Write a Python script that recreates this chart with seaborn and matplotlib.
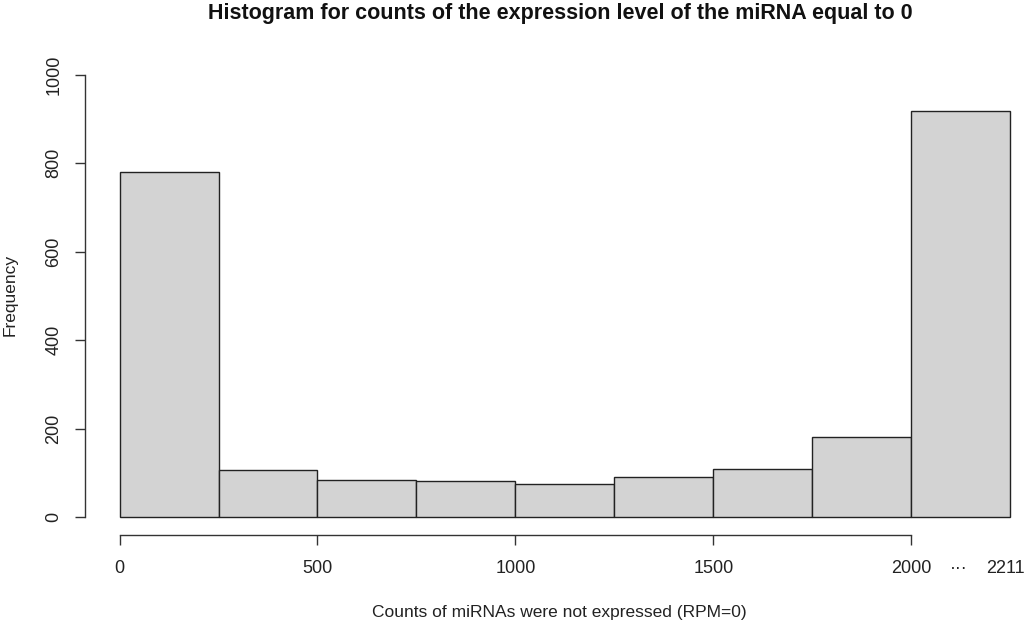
import numpy as np
import pandas as pd
import matplotlib
matplotlib.use('Agg')
import matplotlib.pyplot as plt
import matplotlib.transforms as mtransforms
import seaborn as sns

# bin edges (R hist breaks) and bar counts
bin_edges = [0, 250, 500, 750, 1000, 1250, 1500, 1750, 2000, 2250]
counts = [780, 106, 84, 82, 75, 90, 108, 181, 917]
x_ticks = [0, 500, 1000, 1500, 2000]
y_ticks = [0, 200, 400, 600, 800, 1000]
max_count_label = '2211'

sns.set_style('white')
plt.rcParams['font.family'] = ['Liberation Sans', 'DejaVu Sans']

df = pd.DataFrame({
    'mid': [(a + b) / 2 for a, b in zip(bin_edges[:-1], bin_edges[1:])],
    'n': counts,
})

fig = plt.figure(figsize=(10.24, 6.25), dpi=100)
ax = fig.add_axes([0.082, 0.144, 0.918, 0.765])

sns.histplot(data=df, x='mid', weights='n', bins=bin_edges, ax=ax,
             color='#d3d3d3', edgecolor='#222222', linewidth=1.0, alpha=1)

ax.set_xlim(-90, 2285)
ax.set_ylim(-40, 1040)

for s in ['top', 'right']:
    ax.spines[s].set_visible(False)
ax.spines['left'].set_bounds(0, 1000)
ax.spines['bottom'].set_bounds(0, 2000)
ax.spines['left'].set_position(('data', -88))
ax.spines['bottom'].set_position(('data', -40))
for s in ['left', 'bottom']:
    ax.spines[s].set_color('#333333')
    ax.spines[s].set_linewidth(1.0)

ax.set_xticks(x_ticks)
ax.set_yticks(y_ticks)
ax.set_yticklabels([str(v) for v in y_ticks], rotation=90, va='center')
ax.tick_params(axis='both', direction='out', length=7, width=1.0, color='#333333',
               labelsize=13, labelcolor='#222222', left=True, bottom=True)
ax.tick_params(axis='x', pad=11)
ax.tick_params(axis='y', pad=9)

# extra labels after the last tick, on the same line as the tick labels
shift = mtransforms.ScaledTranslation(0, -18 / 72, fig.dpi_scale_trans)
ax.text(2121, -40, '\u00b7\u00b7\u00b7', transform=ax.transData + shift,
        ha='center', va='top', fontsize=13, color='#222222')
ax.text(2238, -40, max_count_label, transform=ax.transData + shift,
        ha='center', va='top', fontsize=13, color='#222222')

ax.set_xlabel('')
ax.set_ylabel('')
fig.text(559 / 1024, 1 - 612 / 625, 'Counts of miRNAs were not expressed (RPM=0)',
         ha='center', va='center', fontsize=12.5, color='#222222')
fig.text(10 / 1024, 1 - 295 / 625, 'Frequency', rotation=90,
         ha='center', va='center', fontsize=12.5, color='#222222')
fig.text(560 / 1024, 1 - 14 / 625, 'Histogram for counts of the expression level of the miRNA equal to 0',
         ha='center', va='center', fontsize=15.5, fontweight='bold', color='#111111')

fig.savefig('out.png', dpi=100)
